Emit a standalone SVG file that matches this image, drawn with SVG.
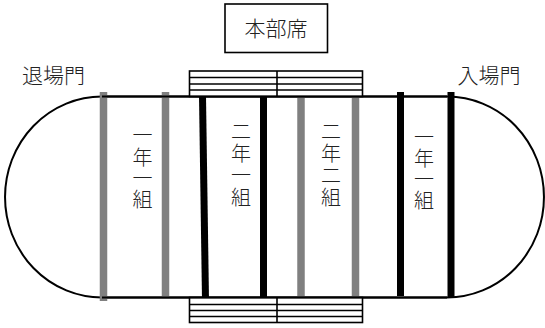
<svg xmlns="http://www.w3.org/2000/svg" width="545" height="328" viewBox="0 0 545 328">
<style>
.track{fill:none;stroke:#000;stroke-width:2}
.gray{stroke:#808080;stroke-width:7.5}
.black{stroke:#000;stroke-width:7}
.stand{fill:#fff;stroke:#000;stroke-width:1.6}
.sl{stroke:#000;stroke-width:1.6}
.t{font-family:"Noto Sans CJK JP","Noto Sans CJK SC",sans-serif;font-size:21px;font-weight:300;fill:#222;text-anchor:middle}
.v{font-size:20px}
</style>
<rect width="545" height="328" fill="#fff"/>
<g id="track">
<path class="track" d="M102,96.5 H447 A97,100.5 0 0 1 447,297.5 H102 A97,100.5 0 0 1 102,96.5 Z"/>
</g>
<g id="bars">
<line class="gray" x1="103.5" y1="92" x2="103.5" y2="301"/>
<line class="gray" x1="165.5" y1="92" x2="165.5" y2="297.5"/>
<line class="black" x1="202.5" y1="96" x2="205.5" y2="300"/>
<line class="black" x1="263.5" y1="94" x2="263.5" y2="297.5"/>
<line class="gray" x1="301" y1="94" x2="301" y2="296"/>
<line class="gray" x1="355.5" y1="92" x2="355.5" y2="296"/>
<line class="black" x1="400.5" y1="92" x2="400.5" y2="296"/>
<line class="black" x1="451" y1="92" x2="451" y2="297"/>
</g>
<g id="stand-top">
<rect class="stand" x="189.5" y="71" width="173" height="25.5"/>
<line class="sl" x1="189.5" y1="77.5" x2="362.5" y2="77.5"/>
<line class="sl" x1="189.5" y1="84" x2="362.5" y2="84"/>
<line class="sl" x1="189.5" y1="90" x2="362.5" y2="90"/>
<line class="sl" x1="277" y1="71" x2="277" y2="96.5"/>
<line class="track" x1="102" y1="96.5" x2="447" y2="96.5"/>
</g>
<g id="stand-bottom">
<rect class="stand" x="189.5" y="297.5" width="173" height="25"/>
<line class="sl" x1="189.5" y1="304.5" x2="362.5" y2="304.5"/>
<line class="sl" x1="189.5" y1="310.5" x2="362.5" y2="310.5"/>
<line class="sl" x1="189.5" y1="316.5" x2="362.5" y2="316.5"/>
<line class="sl" x1="277" y1="297.5" x2="277" y2="322.5"/>
<line class="track" x1="102" y1="297.5" x2="447" y2="297.5"/>
</g>
<g id="honbu">
<rect x="225" y="4" width="102.5" height="48.5" fill="#fff" stroke="#000" stroke-width="1.6"/>
<text class="t" x="276" y="36">本部席</text>
</g>
<g id="exit">
<text class="t" x="53.5" y="82.5">退場門</text>
</g>
<g id="entrance">
<text class="t" x="489" y="82.5">入場門</text>
</g>
<g id="class1">
<text class="t v" x="142.5"><tspan x="142.5" y="143">一</tspan><tspan x="142.5" y="164.5">年</tspan><tspan x="142.5" y="185.5">一</tspan><tspan x="142.5" y="206.5">組</tspan></text>
</g>
<g id="class2">
<text class="t v" x="241"><tspan x="241" y="139">二</tspan><tspan x="241" y="161">年</tspan><tspan x="241" y="182.5">一</tspan><tspan x="241" y="204.5">組</tspan></text>
</g>
<g id="class3">
<text class="t v" x="331"><tspan x="331" y="139">二</tspan><tspan x="331" y="161">年</tspan><tspan x="331" y="183">二</tspan><tspan x="331" y="204.5">組</tspan></text>
</g>
<g id="class4">
<text class="t v" x="424"><tspan x="424" y="144.5">一</tspan><tspan x="424" y="166">年</tspan><tspan x="424" y="187">一</tspan><tspan x="424" y="208">組</tspan></text>
</g>
</svg>
